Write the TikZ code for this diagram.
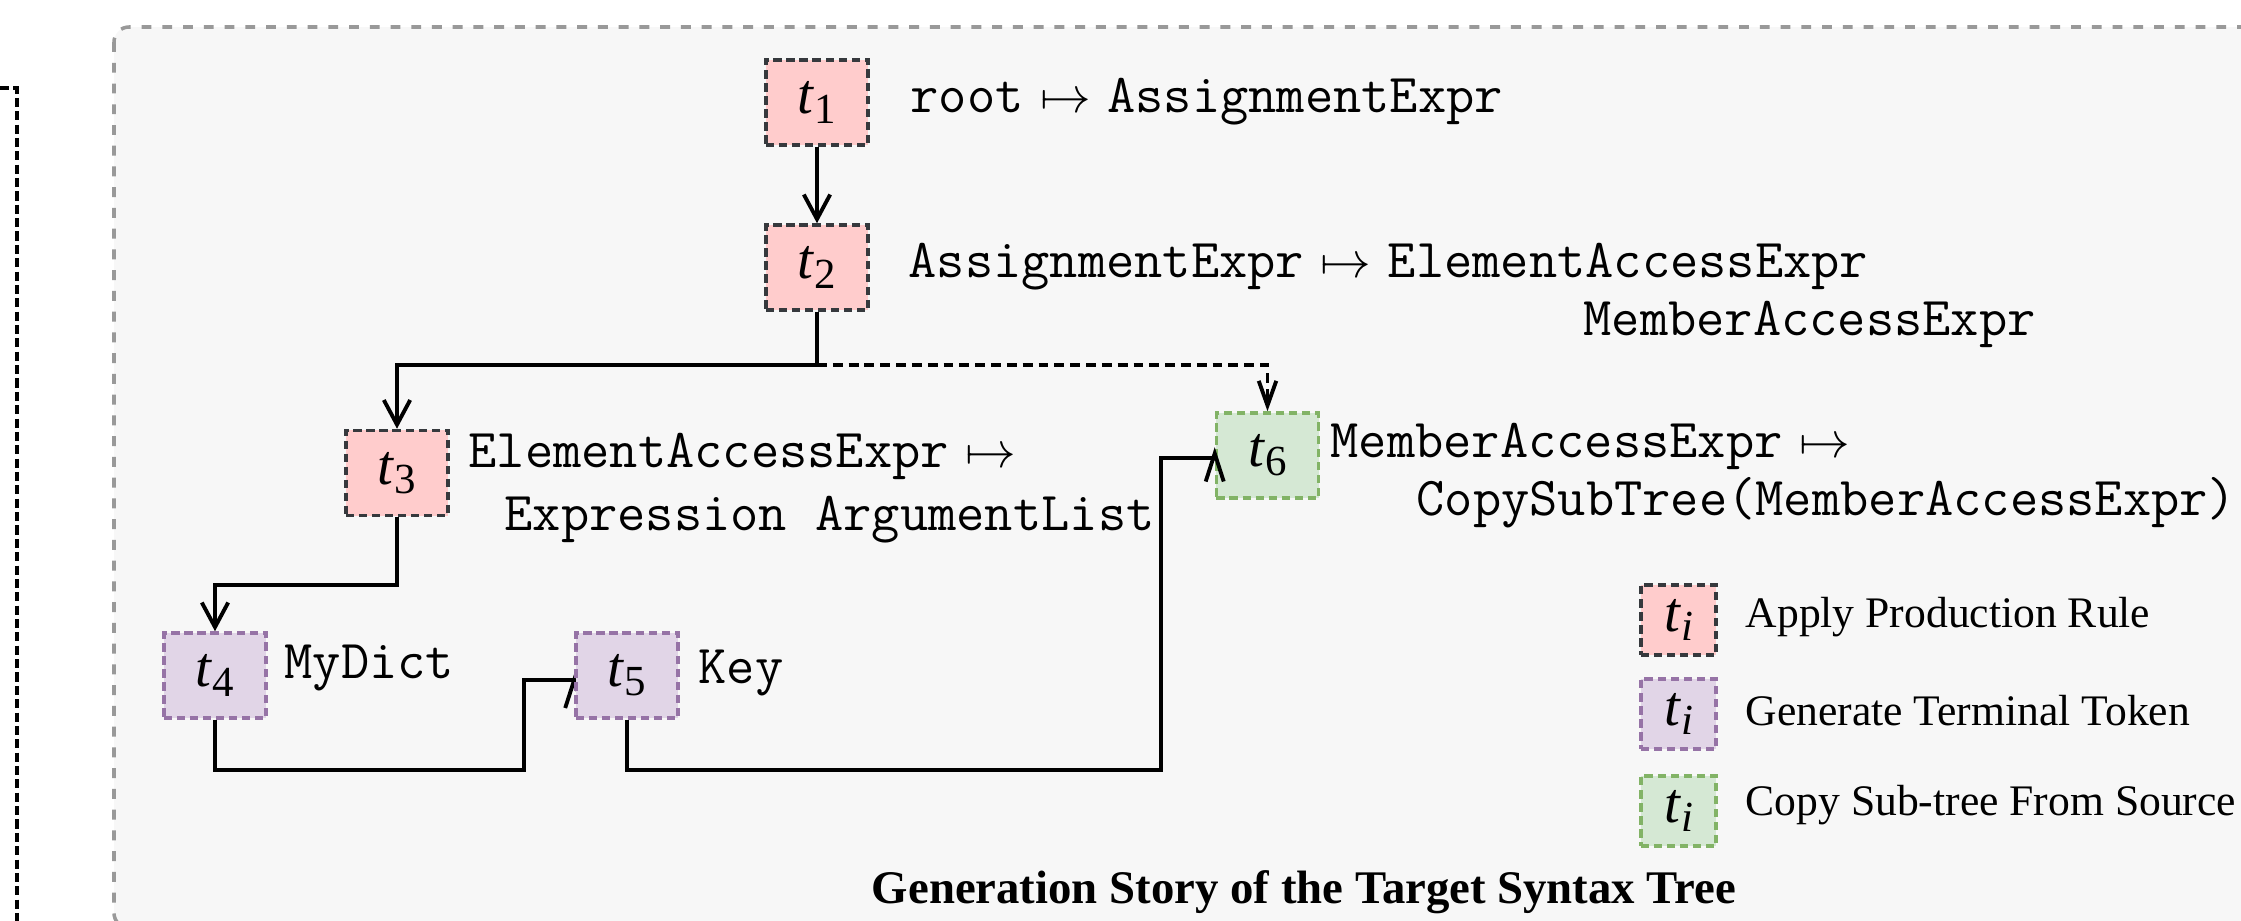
\documentclass[tikz,border=0pt]{standalone}
\usepackage{fontspec}
\setmainfont{Liberation Serif}
\usetikzlibrary{arrows.meta,calc}
\pgfdeclarelayer{bg}
\pgfdeclarelayer{edges}
\pgfsetlayers{bg,edges,main}
\definecolor{pinkfill}{HTML}{FFCCCC}
\definecolor{pinkdraw}{HTML}{36393D}
\definecolor{purpfill}{HTML}{E1D5E7}
\definecolor{purpdraw}{HTML}{9673A6}
\definecolor{greenfill}{HTML}{D5E8D4}
\definecolor{greendraw}{HTML}{82B366}
\definecolor{panelfill}{HTML}{F7F7F7}
\definecolor{paneldraw}{HTML}{999999}
\newcommand{\codefont}{\fontsize{15.6pt}{18pt}\ttfamily}
\newcommand{\legfont}{\fontsize{12.4pt}{15pt}\selectfont}
\newcommand{\tlab}[1]{\fontsize{16.2pt}{18pt}\selectfont\textit{t}\raisebox{-2.6pt}{\fontsize{12.2pt}{14pt}\selectfont #1}}
\newcommand{\mto}{\hspace{0.3em}{\fontsize{14.5pt}{16pt}\selectfont$\mapsto$}\hspace{0.3em}}
\tikzset{
  tnode/.style={minimum width=1.02cm, minimum height=0.85cm, inner sep=0pt,
    line width=1pt, dash pattern=on 2.4pt off 1.3pt},
  prule/.style={tnode, fill=pinkfill, draw=pinkdraw},
  term/.style={tnode, fill=purpfill, draw=purpdraw},
  copyst/.style={tnode, fill=greenfill, draw=greendraw},
  legbox/.style={minimum width=0.75cm, minimum height=0.70cm},
  code/.style={anchor=base west, inner sep=0pt, font=\codefont},
  legtext/.style={anchor=base west, inner sep=0pt, font=\legfont},
  conn/.style={line width=1.1pt, black},
  arr/.style={-{Straight Barb[length=7pt,width=7.5pt]}},
  dasharr/.style={conn, dash pattern=on 2.8pt off 1.7pt, -{Straight Barb[length=7pt,width=5pt]}},
  panel/.style={draw=paneldraw, fill=panelfill, line width=1pt, dash pattern=on 2.8pt off 3.1pt, rounded corners=0.15cm},
  outerbox/.style={draw=black, line width=1pt, dash pattern=on 2.6pt off 1.2pt},
}
\begin{document}
\begin{tikzpicture}[x=0.01cm,y=-0.01cm]
\useasboundingbox (0,0) rectangle (2241,921);
\begin{pgfonlayer}{bg}
  \clip (0,0) rectangle (2241,921);
  \fill[white] (0,0) rectangle (2241,921);
  \path[panel] (114,27) rectangle (2330,928);
  \draw[outerbox] (-40,88) -- (17,88) -- (17,1000);
\end{pgfonlayer}

% tree nodes
\node[prule] (t1) at (817,102.5) {\tlab{1}};
\node[prule] (t2) at (817,267.5) {\tlab{2}};
\node[prule] (t3) at (397,473) {\tlab{3}};
\node[term] (t4) at (215,675.5) {\tlab{4}};
\node[term] (t5) at (627,675.5) {\tlab{5}};
\node[copyst] (t6) at (1267.5,455.5) {\tlab{6}};

% rule texts
\node[code] (r1) at (910,112) {root\mto AssignmentExpr};
\node[code] (r2) at (908,277) {AssignmentExpr\mto ElementAccessExpr};
\node[code] (r2b) at (1583,335) {MemberAccessExpr};
\node[code] (r3a) at (468,467) {ElementAccessExpr\mto};
\node[code] (r3b) at (504,530) {Expression ArgumentList};
\node[code] (r4) at (284,678) {MyDict};
\node[code] (r5) at (698,683) {Key};
\node[code] (r6a) at (1330,457) {MemberAccessExpr\mto};
\node[code] (r6b) at (1416,515) {CopySubTree(MemberAccessExpr)};

% legend
\node[prule,legbox] (l1) at (1678.5,620) {\tlab{\textit{i}}};
\node[term,legbox] (l2) at (1678.5,714) {\tlab{\textit{i}}};
\node[copyst,legbox] (l3) at (1678.5,811) {\tlab{\textit{i}}};
\node[legtext] (lt1) at (1745,627) {Apply Production Rule};
\node[legtext] (lt2) at (1745,725) {Generate Terminal Token};
\node[legtext] (lt3) at (1745,815) {Copy Sub-tree From Source};

% title
\node[anchor=base, inner sep=0pt, font=\fontsize{13.3pt}{16pt}\selectfont\bfseries] (title) at (1304,903) {Generation Story of the Target Syntax Tree};

% connectors
\begin{pgfonlayer}{edges}
  \coordinate (j2) at (817,365);
  \coordinate (j3) at (397,585);
  \coordinate (j4) at (524,770);
  \coordinate (j5) at (1161,770);
  \draw[conn,arr] (t1.south) -- (t2.north);
  \draw[conn,arr] (t2.south) -- (j2) -| (t3.north);
  \draw[dasharr] (j2) -| (t6.north);
  \draw[conn,arr] (t3.south) -- (j3) -| (t4.north);
  \draw[conn] (t4.south) |- (j4) |- ($(t5.west)+(0,4.5)$);
  \draw[conn] ($(t5.west)+(-9,32.5)$) -- ($(t5.west)+(0,4.5)$) -- ($(t5.west)+(9,32.5)$);
  \draw[conn] (t5.south) |- (j5) |- ($(t6.west)+(0,2.5)$);
\end{pgfonlayer}
\draw[conn] ($(t6.west)+(-9,26)$) -- ($(t6.west)+(0,-2)$) -- ($(t6.west)+(9,26)$);
\end{tikzpicture}
\end{document}
